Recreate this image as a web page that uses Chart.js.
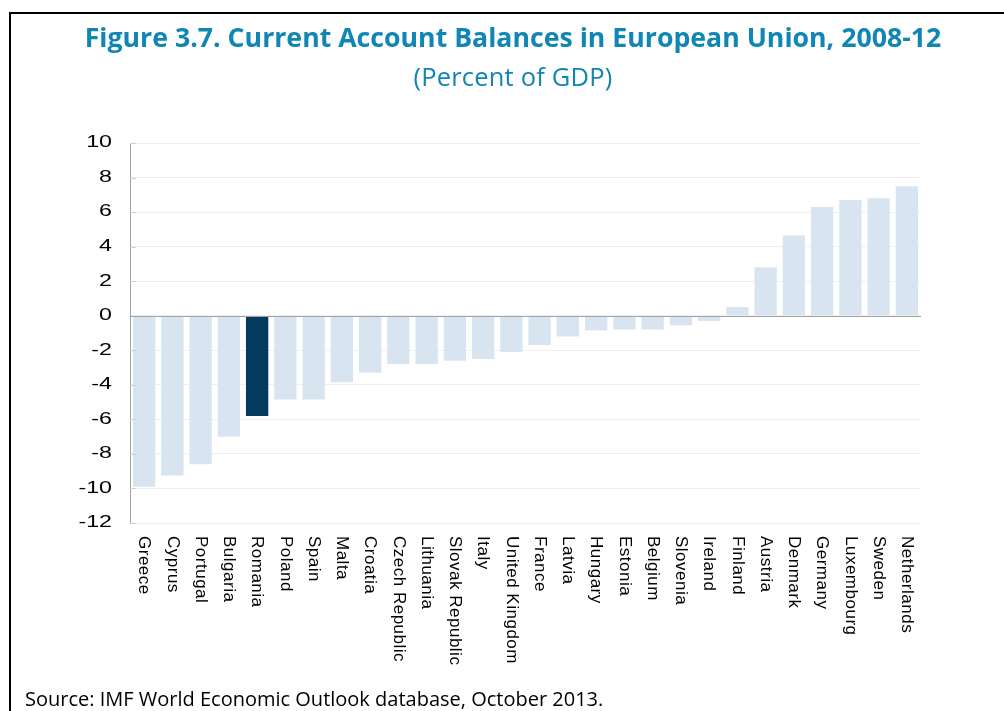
<!DOCTYPE html>
<html>
<head>
<meta charset="utf-8">
<title>Current Account Balances in European Union, 2008-12</title>
<script src="https://cdn.jsdelivr.net/npm/chart.js@4.4.1/dist/chart.umd.min.js"></script>
<style>
  html, body { margin: 0; padding: 0; background: #fff; }
  #wrap { position: relative; width: 1004px; height: 711px; overflow: hidden; }
  #frame { position: absolute; left: 9px; top: 12px; right: -10px; bottom: -10px;
           border-left: 2px solid #000; border-top: 2px solid #000; }
  #myChart { position: absolute; left: 0; top: 0; }
  .title { position: absolute; left: 13px; width: 1000px; text-align: center;
           font-family: "Open Sans", sans-serif; color: #0f86b4; white-space: nowrap; }
  #title { top: 18px; font-size: 26.7px; font-weight: bold; }
  #subtitle { top: 59px; font-size: 25.5px; letter-spacing: 0.2px; }
  #source { position: absolute; left: 25px; top: 685px; font-family: "Open Sans", sans-serif;
            font-size: 20px; color: #000; white-space: nowrap; }
</style>
</head>
<body>
<div id="wrap">
  <div id="frame"></div>
  <canvas id="myChart" width="1004" height="711"></canvas>
  <div class="title" id="title">Figure 3.7. Current Account Balances in European Union, 2008-12</div>
  <div class="title" id="subtitle">(Percent of GDP)</div>
  <div id="source">Source: IMF World Economic Outlook database, October 2013.</div>
</div>
<script>
// 국가 목록 (경상수지 순)
var countries = ['Greece', 'Cyprus', 'Portugal', 'Bulgaria', 'Romania', 'Poland', 'Spain',
  'Malta', 'Croatia', 'Czech Republic', 'Lithuania', 'Slovak Republic', 'Italy',
  'United Kingdom', 'France', 'Latvia', 'Hungary', 'Estonia', 'Belgium', 'Slovenia',
  'Ireland', 'Finland', 'Austria', 'Denmark', 'Germany', 'Luxembourg', 'Sweden', 'Netherlands'];
// 경상수지 (GDP 대비 %, 2008-12 평균)
var balances = [-9.9, -9.25, -8.6, -7.0, -5.8, -4.85, -4.85,
  -3.85, -3.3, -2.8, -2.8, -2.6, -2.5,
  -2.1, -1.7, -1.2, -0.85, -0.8, -0.8, -0.55,
  -0.3, 0.5, 2.8, 4.65, 6.3, 6.7, 6.8, 7.5];
// y축 눈금
var yTicks = [-12, -10, -8, -6, -4, -2, 0, 2, 4, 6, 8, 10];
var highlight = 'Romania';

var lightBar = '#d8e5f0';
var darkBar = '#033a5d';
var barColors = countries.map(function(c){ return c == highlight ? darkBar : lightBar; });
var labelFont = '"Liberation Sans", Arial, sans-serif';

// 축 라벨 직접 그리기
// x축: 위에서 아래로 읽히도록 시계방향 회전, y축: 가로로 넓힌 숫자
var axisLabels = {
  id: 'axisLabels',
  afterDraw: function(chart){
    var ctx = chart.ctx;
    var xs = chart.scales.x;
    var ys = chart.scales.y;
    var area = chart.chartArea;
    ctx.save();
    ctx.fillStyle = '#000';
    ctx.font = '17px ' + labelFont;
    ctx.letterSpacing = '0.5px';
    ctx.textAlign = 'left';
    ctx.textBaseline = 'middle';
    countries.forEach(function(label, i){
      ctx.save();
      ctx.translate(xs.getPixelForTick(i), area.bottom + 13);
      ctx.rotate(Math.PI / 2);
      ctx.fillText(label, 0, 0);
      ctx.restore();
    });
    ctx.font = '16px ' + labelFont;
    ctx.letterSpacing = '0px';
    ctx.textAlign = 'right';
    yTicks.forEach(function(v){
      ctx.save();
      ctx.translate(area.left - 18, ys.getPixelForValue(v));
      ctx.scale(1.45, 1);
      ctx.fillText(String(v), 0, 0);
      ctx.restore();
    });
    ctx.restore();
  }
};

// 0 기준선과 축 안쪽 눈금
var zeroLine = {
  id: 'zeroLine',
  afterDatasetsDraw: function(chart){
    var ctx = chart.ctx;
    var ys = chart.scales.y;
    var area = chart.chartArea;
    ctx.save();
    ctx.strokeStyle = '#d0d0d0';
    ctx.lineWidth = 1;
    yTicks.forEach(function(v){
      var y = Math.round(ys.getPixelForValue(v)) + 0.5;
      ctx.beginPath();
      ctx.moveTo(area.left, y);
      ctx.lineTo(area.left + 6, y);
      ctx.stroke();
    });
    var y0 = Math.round(ys.getPixelForValue(0)) + 0.5;
    ctx.strokeStyle = '#a3a3a3';
    ctx.beginPath();
    ctx.moveTo(area.left, y0);
    ctx.lineTo(area.right, y0);
    ctx.stroke();
    ctx.restore();
  }
};

var ctx = document.getElementById('myChart');
new Chart(ctx, {
  type: 'bar',
  data: {
    labels: countries,
    datasets: [{
      data: balances,
      backgroundColor: barColors,
      borderWidth: 0,
      barPercentage: 0.79,
      categoryPercentage: 1.0
    }]
  },
  options: {
    responsive: false,
    devicePixelRatio: 1,
    animation: false,
    layout: { padding: { left: 60, right: 83, top: 143, bottom: 38 } },
    plugins: {
      legend: { display: false },
      tooltip: { enabled: false }
    },
    scales: {
      x: {
        grid: { display: false },
        border: { display: false },
        ticks: {
          color: 'rgba(0,0,0,0)',
          minRotation: 90,
          maxRotation: 90,
          autoSkip: false,
          font: { family: labelFont, size: 17 }
        },
        afterFit: function(scale){ scale.height = 150; }
      },
      y: {
        min: yTicks[0],
        max: yTicks[yTicks.length - 1],
        afterBuildTicks: function(scale){
          scale.ticks = yTicks.map(function(v){ return { value: v }; });
        },
        grid: { color: '#efefef', lineWidth: 1, drawTicks: false },
        border: { display: true, color: '#a3a3a3', width: 1 },
        ticks: {
          color: 'rgba(0,0,0,0)',
          padding: 18,
          font: { family: labelFont, size: 16 }
        },
        afterFit: function(scale){ scale.width = 70; }
      }
    }
  },
  plugins: [axisLabels, zeroLine]
});
</script>
</body>
</html>
